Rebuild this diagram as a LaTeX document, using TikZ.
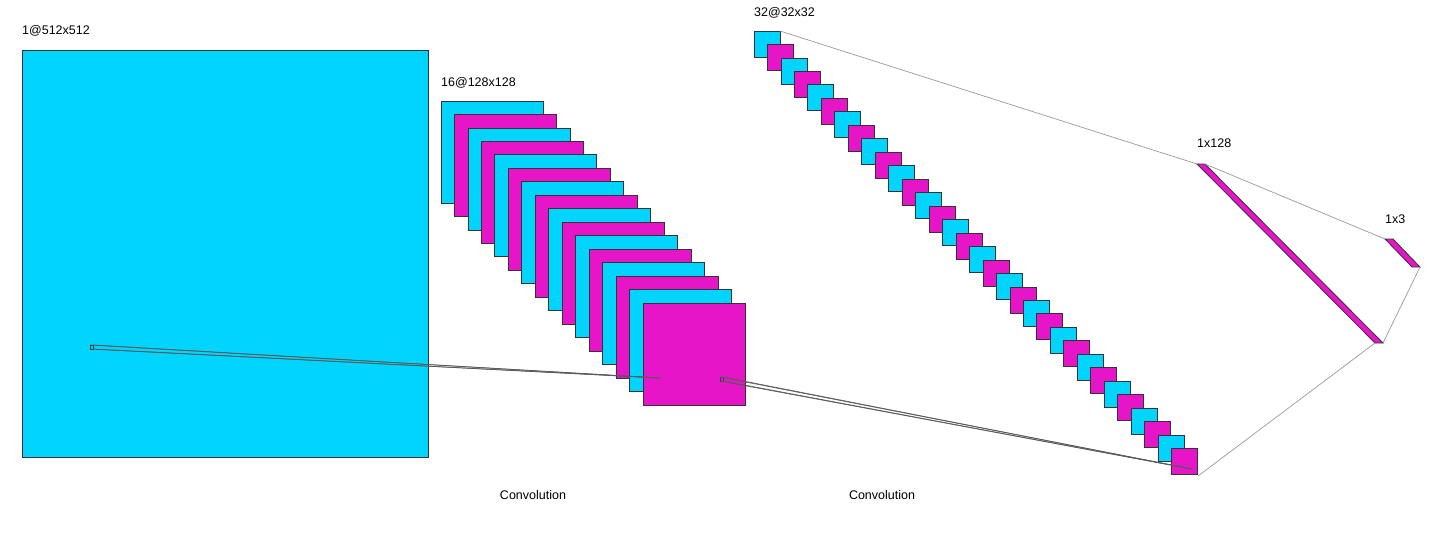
\documentclass[tikz,border=0pt]{standalone}
\usepackage{fontspec}
\setmainfont{Liberation Sans}
\usetikzlibrary{math}
\definecolor{qcyan}{RGB}{0,212,255}
\definecolor{qmag}{RGB}{230,22,200}
\colorlet{map0}{qcyan}
\colorlet{map1}{qmag}

\begin{document}
\begin{tikzpicture}[x=1pt,y=-1pt,
  fmap/.style={draw=black!80, line width=0.8},
  link/.style={draw=black!40, line width=0.7},
  klink/.style={draw=black!65, line width=0.7},
  lbl/.style={anchor=base west, inner sep=0, font=\fontsize{12.5}{14}\selectfont}]
\tikzmath{
\d=13.47;
\sA=102;
\sB=26;
}
\useasboundingbox (0,0) rectangle (1441,555);

%input:
 \draw[fmap, fill=qcyan] (22,50) rectangle (428,457);
 \node[lbl] (lin) at (22,34) {1@512x512};
%first conv stack
 \foreach \i in {0,...,15}{
  \tikzmath{
    \x=441+\i*\d;
    \y=101+\i*\d;
    int \c; \c=mod(\i,2);
  }
  \draw[fmap, fill=map\c] (\x,\y) rectangle +(\sA,\sA);
 }
 \node[lbl] (lca) at (441,86) {16@128x128};
%second conv stack
 \foreach \i in {0,...,31}{
  \tikzmath{
    \x=754+\i*\d;
    \y=31+\i*\d;
    int \c; \c=mod(\i,2);
  }
  \draw[fmap, fill=map\c] (\x,\y) rectangle +(\sB,\sB);
 }
 \node[lbl] (lcb) at (754,16) {32@32x32};
%dense layers
 \draw[fmap, fill=qmag] (1197,164) coordinate (da) -- (1205,164) coordinate (db)
   -- (1383,343) coordinate (dc) -- (1375,343) coordinate (dd) -- cycle;
 \node[lbl] (lda) at (1197,147) {1x128};
 \draw[fmap, fill=qmag] (1385,239) coordinate (ea) -- (1393,239) coordinate (eb)
   -- (1420,267) coordinate (ec) -- (1412,267) coordinate (ed) -- cycle;
 \node[lbl] (ldb) at (1385,223) {1x3};

%links between layers
 \coordinate (ctop) at (780,31);
 \coordinate (cbot) at (1198,476);
 \draw[link] (ctop) -- (da);
 \draw[link] (db) -- (ea);
 \draw[link] (ec) -- (dc);
 \draw[link] (dd) -- (cbot);

%kernels
 \draw[fmap, line width=0.6] (90,345) coordinate (ka) rectangle (93,349) coordinate (kc);
 \coordinate (kb) at (93,345);
 \coordinate (kd) at (90,349);
 \coordinate (kt) at (660,378);
 \foreach \k in {ka,kb,kc,kd} \draw[klink] (\k) -- (kt);
 \draw[fmap, line width=0.6] (720,377) coordinate (ma) rectangle (723,381) coordinate (mc);
 \coordinate (mb) at (723,377);
 \coordinate (md) at (720,381);
 \coordinate (mt) at (1192,469);
 \foreach \k in {ma,mb,mc,md} \draw[klink] (\k) -- (mt);

 \node[font=\fontsize{12.5}{14}\selectfont, inner sep=0, anchor=base] (cva) at (533,499) {Convolution};
 \node[font=\fontsize{12.5}{14}\selectfont, inner sep=0, anchor=base] (cvb) at (882,499) {Convolution};
\end{tikzpicture}
\end{document}
